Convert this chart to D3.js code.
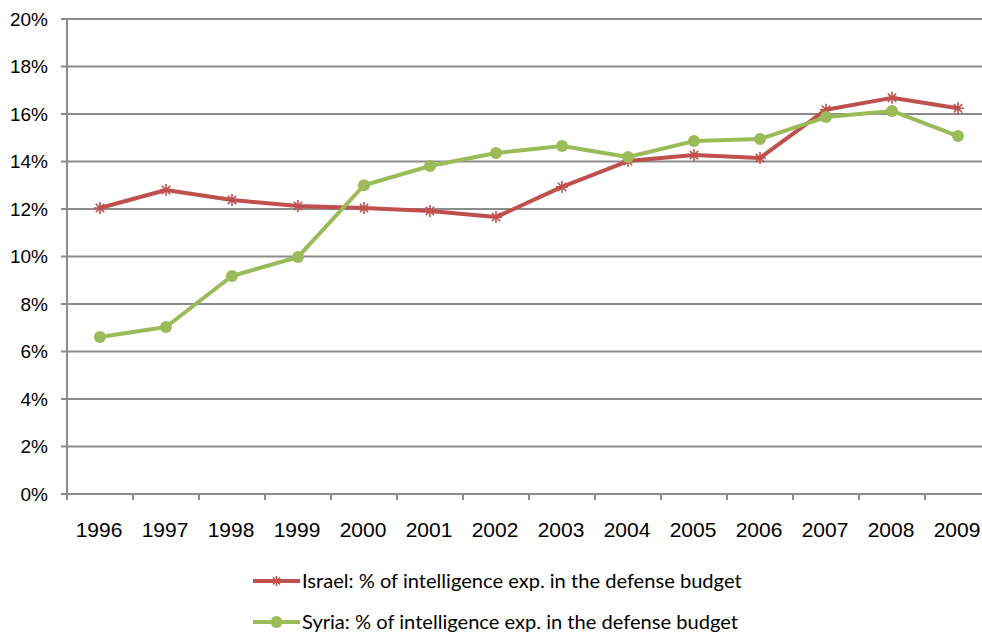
<!DOCTYPE html>
<html>
<head>
<meta charset="utf-8">
<script src="https://cdn.jsdelivr.net/npm/d3@7"></script>
<style>
  body { margin: 0; background: #fff; }
  svg { display: block; }
</style>
</head>
<body>
<div id="chart"></div>
<script>
const years = ['1996', '1997', '1998', '1999', '2000', '2001', '2002', '2003', '2004', '2005', '2006', '2007', '2008', '2009'];
const israel = [12.04, 12.8, 12.38, 12.13, 12.04, 11.92, 11.66, 12.93, 14.02, 14.27, 14.15, 16.18, 16.68, 16.24];
const syria = [6.61, 7.03, 9.18, 9.98, 13.0, 13.81, 14.36, 14.65, 14.19, 14.86, 14.95, 15.87, 16.13, 15.07];
const yTicks = [0, 2, 4, 6, 8, 10, 12, 14, 16, 18, 20];
const seriesNames = ['Israel: % of intelligence exp. in the defense budget', 'Syria: % of intelligence exp. in the defense budget'];

const width = 982;
const height = 634;
const margin = { top: 19, right: -9, bottom: 140, left: 67 };

const svg = d3.select('#chart')
    .append('svg')
    .attr('width', width)
    .attr('height', height);

const x = d3.scaleBand()
    .domain(years)
    .range([margin.left, width - margin.right]);

const y = d3.scaleLinear()
    .domain([0, 20])
    .range([height - margin.bottom, margin.top]);

const gridColor = '#8c8c8c';

// gridlines
svg.append('g')
    .selectAll('line')
    .data(yTicks)
    .enter().append('line')
    .attr('x1', margin.left - 6)
    .attr('x2', width)
    .attr('y1', d => y(d))
    .attr('y2', d => y(d))
    .attr('stroke', gridColor)
    .attr('stroke-width', 2);

// y axis line
svg.append('line')
    .attr('x1', margin.left).attr('x2', margin.left)
    .attr('y1', y(20)).attr('y2', y(0) + 6)
    .attr('stroke', gridColor)
    .attr('stroke-width', 2);

// x ticks between categories
svg.append('g')
    .selectAll('line')
    .data(years.slice(1))
    .enter().append('line')
    .attr('x1', d => x(d)).attr('x2', d => x(d))
    .attr('y1', y(0)).attr('y2', y(0) + 6)
    .attr('stroke', gridColor)
    .attr('stroke-width', 2);

// y labels
svg.append('g')
    .selectAll('text')
    .data(yTicks)
    .enter().append('text')
    .attr('x', 48)
    .attr('y', d => y(d))
    .attr('dy', '0.35em')
    .attr('text-anchor', 'end')
    .attr('font-family', 'Liberation Sans, Arial, sans-serif')
    .attr('font-size', 19)
    .attr('fill', '#000')
    .text(d => d + '%');

// x labels
svg.append('g')
    .selectAll('text')
    .data(years)
    .enter().append('text')
    .attr('x', d => x(d) + x.bandwidth() / 2 - 1)
    .attr('y', 537)
    .attr('text-anchor', 'middle')
    .attr('font-family', 'Liberation Sans, Arial, sans-serif')
    .attr('font-size', 21)
    .attr('fill', '#000')
    .text(d => d);

const cx = d => x(d) + x.bandwidth() / 2;
const line = d3.line()
    .x(d => cx(d[0]))
    .y(d => y(d[1]));

const red = '#c0504d';
const green = '#9bbb59';

const starPath = (s) => {
    const a = s * 0.7;
    return `M${-s},0L${s},0M${-a},${-a}L${a},${a}M${-a},${a}L${a},${-a}M0,${-s}L0,${s}`;
};

function drawSeries(values, color, marker) {
    const pts = years.map((yr, i) => [yr, values[i]]);
    svg.append('path')
        .datum(pts)
        .attr('d', line)
        .attr('fill', 'none')
        .attr('stroke', color)
        .attr('stroke-width', 4)
        .attr('stroke-linejoin', 'round');
    const g = svg.append('g');
    if (marker === 'star') {
        g.selectAll('path')
            .data(pts)
            .enter().append('path')
            .attr('transform', d => `translate(${cx(d[0])},${y(d[1])})`)
            .attr('d', starPath(6))
            .attr('stroke', color)
            .attr('stroke-width', 1.6)
            .attr('fill', 'none');
    } else {
        g.selectAll('circle')
            .data(pts)
            .enter().append('circle')
            .attr('cx', d => cx(d[0]))
            .attr('cy', d => y(d[1]))
            .attr('r', 6)
            .attr('fill', color);
    }
}

drawSeries(israel, red, 'star');
drawSeries(syria, green, 'circle');

// legend
const legend = svg.append('g');
const legendItems = [
    { name: seriesNames[0], color: red, marker: 'star', y: 581 },
    { name: seriesNames[1], color: green, marker: 'circle', y: 622 }
];
legendItems.forEach(item => {
    legend.append('line')
        .attr('x1', 253).attr('x2', 300)
        .attr('y1', item.y).attr('y2', item.y)
        .attr('stroke', item.color)
        .attr('stroke-width', 4);
    if (item.marker === 'star') {
        legend.append('path')
            .attr('transform', `translate(276.5,${item.y})`)
            .attr('d', starPath(5))
            .attr('stroke', item.color)
            .attr('stroke-width', 1.6)
            .attr('fill', 'none');
    } else {
        legend.append('circle')
            .attr('cx', 276.5).attr('cy', item.y)
            .attr('r', 6)
            .attr('fill', item.color);
    }
    legend.append('text')
        .attr('x', 302)
        .attr('y', item.y)
        .attr('dy', '0.35em')
        .attr('font-family', 'Lato, Open Sans, sans-serif')
        .attr('font-size', 20.1)
        .attr('fill', '#000')
        .text(item.name);
});
</script>
</body>
</html>
